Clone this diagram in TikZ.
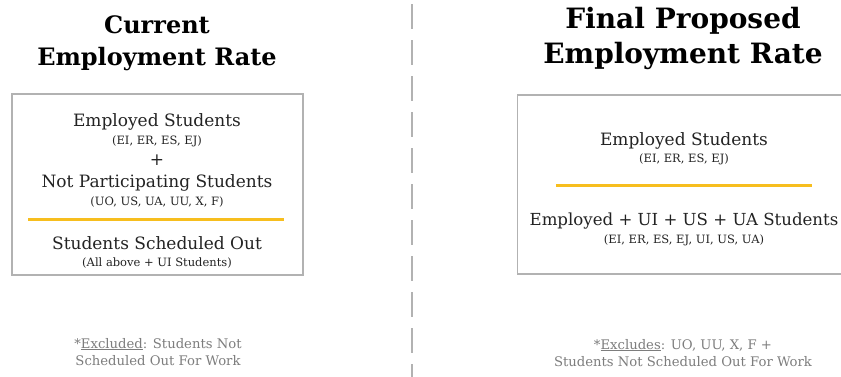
\documentclass[tikz,border=0pt]{standalone}
\usepackage{fontspec}
\setmainfont{DejaVu Serif}
\definecolor{gold}{RGB}{247,190,30}
\definecolor{framegray}{RGB}{178,178,178}
\definecolor{txt}{RGB}{35,35,35}
\definecolor{notegray}{RGB}{125,125,125}
\begin{document}
\begin{tikzpicture}[x=1pt,y=-1pt,
  titleL/.style={font=\fontsize{24}{29}\selectfont\bfseries, text=black, inner sep=0pt, anchor=base},
  titleR/.style={font=\fontsize{28}{33}\selectfont\bfseries, text=black, inner sep=0pt, anchor=base},
  mainline/.style={font=\fontsize{17}{20}\selectfont, text=txt, inner sep=0pt, anchor=base},
  subline/.style={font=\fontsize{11.5}{13}\selectfont, text=txt, inner sep=0pt, anchor=base},
  noteline/.style={font=\fontsize{13.2}{16}\selectfont, text=notegray, inner sep=0pt, anchor=base},
  framebox/.style={draw=framegray, line width=1.5pt, inner sep=0pt},
  goldline/.style={draw=gold, line width=3pt},
  divider/.style={draw=framegray, line width=2pt, dash pattern=on 25pt off 11pt}]
\useasboundingbox (0,0) rectangle (841,376);
\fill[white] (0,0) rectangle (841,376);

% divider
\coordinate (dtop) at (412,4);
\coordinate (dbot) at (412,382);
\draw[divider] (dtop) -- (dbot);

% titles
\node[titleL] (tL1) at (157,33) {Current};
\node[titleL] (tL2) at (157,65) {Employment Rate};
\node[titleR] (tR1) at (683,28) {Final Proposed};
\node[titleR] (tR2) at (683,63) {Employment Rate};

% left box
\node[framebox, minimum width=291pt, minimum height=181pt] (boxL) at (157.5,184.5) {};
\node[mainline] (l1) at (157,126) {Employed Students};
\node[subline] (l2) at (157,144) {(EI, ER, ES, EJ)};
\node[mainline, anchor=center] (l3) at (157,160) {+};
\node[mainline] (l4) at (157,187) {Not Participating Students};
\node[subline] (l5) at (157,205) {(UO, US, UA, UU, X, F)};
\coordinate (gL1) at (28,219.5);
\coordinate (gL2) at (284,219.5);
\draw[goldline] (gL1) -- (gL2);
\node[mainline] (l6) at (157,249) {Students Scheduled Out};
\node[subline] (l7) at (157,266) {(All above + UI Students)};

% right box (runs past the right edge)
\coordinate (bR1) at (850,95);
\coordinate (bR2) at (517.5,95);
\coordinate (bR3) at (517.5,274);
\coordinate (bR4) at (850,274);
\draw[draw=framegray, line width=1.5pt] (bR1) -- (bR2) -- (bR3) -- (bR4);
\node[mainline] (r1) at (684,145) {Employed Students};
\node[subline] (r2) at (684,162) {(EI, ER, ES, EJ)};
\coordinate (gR1) at (556,185);
\coordinate (gR2) at (812,185);
\draw[goldline] (gR1) -- (gR2);
\node[mainline, font=\fontsize{16.6}{20}\selectfont] (r3) at (684,225) {Employed + UI + US + UA Students};
\node[subline] (r4) at (684,243) {(EI, ER, ES, EJ, UI, US, UA)};

% footnotes
\node[noteline] (nL1) at (158,348) {*\underline{Excluded}: Students Not};
\node[noteline] (nL2) at (158,365) {Scheduled Out For Work};
\node[noteline] (nR1) at (683,349) {*\underline{Excludes}: UO, UU, X, F +};
\node[noteline] (nR2) at (683,366) {Students Not Scheduled Out For Work};
\end{tikzpicture}
\end{document}
